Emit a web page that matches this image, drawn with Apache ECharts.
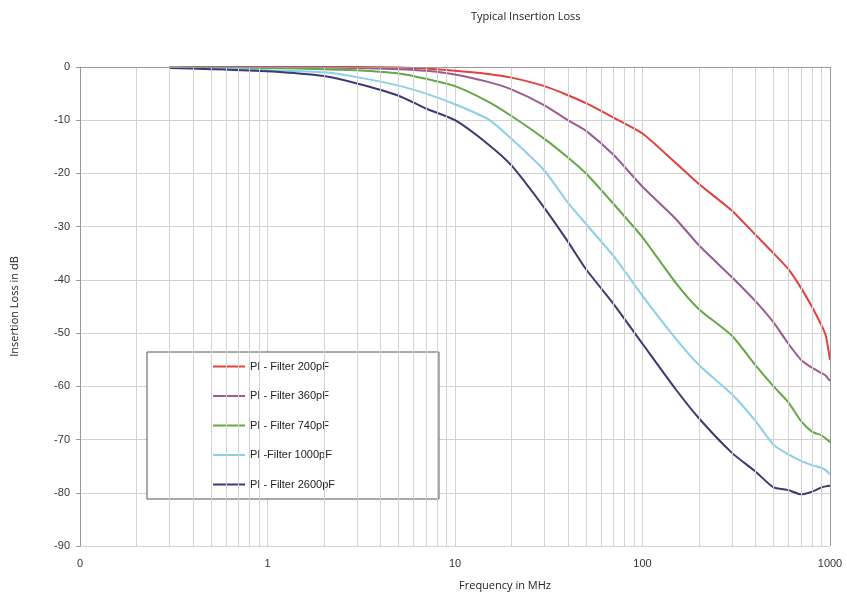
<!DOCTYPE html>
<html><head><meta charset="utf-8">
<script src="https://cdn.jsdelivr.net/npm/echarts@6/dist/echarts.min.js"></script>
<style>html,body{margin:0;padding:0;background:#fff}#c{width:847px;height:599px}</style>
</head><body><div id="c"></div>
<script>
var freqs = [0.3,0.5,1,2,3,5,7,10,15,20,30,40,50,70,100,150,200,300,400,500,600,700,800,900,950,1000];
var names = ['PI - Filter 200pF','PI - Filter 360pF','PI - Filter 740pF','PI -Filter 1000pF','PI - Filter 2600pF'];
var s200  = [0,0,0,0,0,-0.1,-0.3,-0.7,-1.3,-2,-3.6,-5.3,-6.8,-9.5,-12.5,-18,-22,-27,-31.5,-35,-38,-41.5,-45,-48.5,-50.5,-55];
var s360  = [-0.05,-0.05,-0.1,-0.1,-0.2,-0.4,-0.7,-1.4,-2.8,-4.2,-7.2,-10,-12,-16.5,-22.5,-28.5,-33.5,-39.5,-44,-48,-52,-55,-56.5,-57.5,-58,-59];
var s740  = [-0.1,-0.1,-0.2,-0.4,-0.6,-1.2,-2.2,-3.6,-6.5,-9.2,-13.5,-17,-20,-25.7,-32,-40.5,-45.5,-50.5,-56,-60,-63,-66.5,-68.5,-69.2,-69.8,-70.5];
var s1000 = [-0.1,-0.3,-0.6,-1.0,-1.9,-3.5,-5,-7,-9.8,-13.5,-19.5,-25.5,-29.5,-35.5,-43,-51,-56,-61.5,-66.5,-71,-72.8,-74,-74.8,-75.3,-75.8,-76.5];
var s2600 = [-0.2,-0.4,-0.8,-1.7,-3.1,-5.4,-7.8,-10,-14.5,-18.5,-26.5,-32.8,-38,-44.5,-52,-60.5,-66,-72.5,-76,-79,-79.5,-80.3,-79.8,-79,-78.8,-78.7];
var xTickLabels = {'0.1':'0','1':'1','10':'10','100':'100','1000':'1000'};
var colors = ['#e2403c','#9c5a8e','#62a844','#8ccfe6','#3a3a72'];

// minor log grid positions (2..9 of each decade)
var minorGrid = [];
[0.1,1,10,100].forEach(function(d){ for (var k=2;k<=9;k++) minorGrid.push(+(d*k).toPrecision(3)); });

var all = [s200,s360,s740,s1000,s2600];
var series = all.map(function(arr,i){
  return {
    name: names[i], type:'line', showSymbol:false, symbol:'none', smooth:0.2,
    lineStyle:{width:2,color:colors[i]}, itemStyle:{color:colors[i]},
    data: freqs.map(function(f,j){return [f,arr[j]];}), z:3
  };
});
series.push({
  type:'line', data:[], silent:true, z:1,
  markLine:{silent:true, symbol:['none','none'], label:{show:false},
    lineStyle:{color:'#d2d2d2',type:'solid',width:1},
    data: minorGrid.map(function(v){return {xAxis:v};}).concat([
      {yAxis:0, lineStyle:{color:'#999'}},
      {xAxis:1000, lineStyle:{color:'#999'}}
    ]), animation:false}
});

var chart = echarts.init(document.getElementById('c'));
chart.setOption({
  animation:false,
  color: colors,
  title:{text:'Typical Insertion Loss', left:466, top:6,
    textStyle:{fontFamily:'Open Sans', fontSize:11, fontWeight:'normal', color:'#222'}},
  grid:{left:80, right:17, top:67, bottom:53},
  legend:{
    orient:'vertical', left:147, top:352, data:names,
    backgroundColor:'#fff', borderColor:'#555', borderWidth:1,
    padding:[8,104,8,66], itemGap:16.5, itemWidth:32, itemHeight:2, icon:'rect',
    textStyle:{fontFamily:'Liberation Sans', fontSize:11, color:'#222', lineHeight:13}
  },
  xAxis:{
    type:'log', logBase:10, min:0.1, max:1000,
    name:'Frequency in MHz', nameLocation:'middle', nameGap:34,
    nameTextStyle:{fontFamily:'Open Sans', fontSize:11, color:'#222', padding:[0,0,0,100]},
    axisLine:{show:true, lineStyle:{color:'#999'}},
    axisTick:{show:false},
    axisLabel:{margin:12, fontFamily:'Liberation Sans', fontSize:11, color:'#333',
      formatter:function(v){var k=String(+v.toPrecision(3)); return xTickLabels[k]!==undefined?xTickLabels[k]:'';}},
    splitLine:{show:true, lineStyle:{color:'#d2d2d2'}}
  },
  yAxis:{
    type:'value', min:-90, max:0, interval:10,
    name:'Insertion Loss in dB', nameLocation:'middle', nameGap:60, nameRotate:90,
    nameTextStyle:{fontFamily:'Open Sans', fontSize:11, color:'#222'},
    axisLine:{show:true, lineStyle:{color:'#999'}},
    axisTick:{show:true, length:4, lineStyle:{color:'#999'}},
    axisLabel:{margin:10, fontFamily:'Liberation Sans', fontSize:11, color:'#333'},
    splitLine:{show:true, lineStyle:{color:'#d2d2d2'}}
  },
  series: series
});
</script></body></html>
